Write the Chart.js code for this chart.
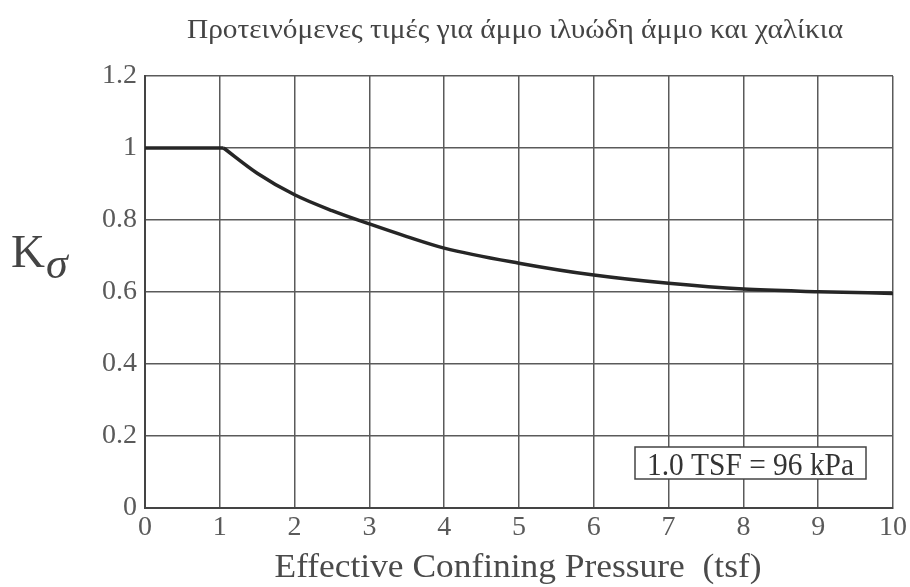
<!DOCTYPE html>
<html>
<head>
<meta charset="utf-8">
<script src="https://cdn.jsdelivr.net/npm/chart.js@4/dist/chart.umd.min.js"></script>
<style>
  html, body { margin: 0; padding: 0; background: #fff; }
  #wrap { width: 910px; height: 587px; position: relative; }
</style>
</head>
<body>
<div id="wrap"><canvas id="c" width="910" height="587"></canvas></div>
<script>
// Flat part of the K-sigma curve (low confining pressure)
const flatPressure = [0, 1.05];
const flatK        = [1, 1];
// Decreasing part of the K-sigma curve
const pressure = [1.05, 1.5, 2, 2.5, 3, 3.5, 4, 5, 6, 7, 8, 9, 10];
const kSigma   = [1, 0.93, 0.87, 0.826, 0.789, 0.754, 0.722, 0.68, 0.647, 0.624, 0.608, 0.601, 0.596];
const xTicks = [0, 1, 2, 3, 4, 5, 6, 7, 8, 9, 10];
const yTicks = [0, 0.2, 0.4, 0.6, 0.8, 1, 1.2];
const titleText = 'Προτεινόμενες τιμές για άμμο ιλυώδη άμμο και χαλίκια';
const xTitle = 'Effective Confining Pressure  (tsf)';
const noteText = '1.0 TSF = 96 kPa';

const SERIF = '"Liberation Serif", "DejaVu Serif", serif';

// draw text centred on cx, stretched horizontally to the given width
function fitText(ctx, text, cx, baseline, font, width, color) {
  ctx.save();
  ctx.font = font;
  ctx.fillStyle = color;
  ctx.textAlign = 'center';
  ctx.textBaseline = 'alphabetic';
  const w = ctx.measureText(text).width;
  const sx = width / w;
  ctx.translate(cx, baseline);
  ctx.scale(sx, 1);
  ctx.fillText(text, 0, 0);
  ctx.restore();
}

const decorations = {
  id: 'decorations',
  afterDraw(chart) {
    const ctx = chart.ctx;
    // title
    fitText(ctx, titleText, 515, 38, '27px ' + SERIF, 656, '#444');
    // x axis title
    fitText(ctx, xTitle, 518, 577, '33px ' + SERIF, 487, '#4a4a4a');
    // y axis title: K with italic sigma
    ctx.save();
    ctx.textAlign = 'left';
    ctx.textBaseline = 'alphabetic';
    ctx.fillStyle = '#444';
    ctx.font = '47px ' + SERIF;
    ctx.fillText('K', 11, 267);
    const kw = ctx.measureText('K').width;
    ctx.font = 'italic 44px ' + SERIF;
    ctx.fillText('σ', 11 + kw + 1, 278);
    ctx.restore();
    // note box
    const bx = 635, by = 447, bw = 231, bh = 32;
    ctx.save();
    ctx.fillStyle = '#fff';
    ctx.fillRect(bx, by, bw, bh);
    ctx.strokeStyle = '#444';
    ctx.lineWidth = 1.5;
    ctx.strokeRect(bx, by, bw, bh);
    ctx.restore();
    fitText(ctx, noteText, bx + bw / 2, 475, '31px ' + SERIF, 207, '#333');
  }
};

const lineStyle = {
  borderColor: '#262626',
  borderWidth: 3.5,
  pointRadius: 0,
  cubicInterpolationMode: 'monotone',
  fill: false
};

new Chart(document.getElementById('c'), {
  type: 'line',
  data: {
    datasets: [
      Object.assign({ data: flatPressure.map((p, i) => ({ x: p, y: flatK[i] })) }, lineStyle),
      Object.assign({ data: pressure.map((p, i) => ({ x: p, y: kSigma[i] })) }, lineStyle)
    ]
  },
  options: {
    responsive: false,
    animation: false,
    devicePixelRatio: 1,
    layout: { padding: { top: 76, right: 16, left: 0, bottom: 0 } },
    plugins: { legend: { display: false }, tooltip: { enabled: false }, title: { display: false } },
    scales: {
      x: {
        type: 'linear',
        min: 0, max: 10,
        afterBuildTicks(scale) { scale.ticks = xTicks.map(v => ({ value: v })); },
        afterFit(scale) { scale.height = 79; },
        grid: { color: '#5a5a5a', lineWidth: 1.5, drawTicks: false },
        border: { color: '#444', width: 2 },
        ticks: {
          color: '#5a5a5a',
          padding: 3,
          font: { family: SERIF, size: 28 },
          callback: v => String(v)
        }
      },
      y: {
        type: 'linear',
        min: 0, max: 1.2,
        afterBuildTicks(scale) { scale.ticks = yTicks.map(v => ({ value: v })); },
        afterFit(scale) { scale.width = 145; },
        grid: { color: '#5a5a5a', lineWidth: 1.5, drawTicks: false },
        border: { color: '#444', width: 2 },
        ticks: {
          color: '#5a5a5a',
          padding: 8,
          font: { family: SERIF, size: 28 },
          callback: v => String(Math.round(v * 10) / 10)
        }
      }
    }
  },
  plugins: [decorations]
});
</script>
</body>
</html>
